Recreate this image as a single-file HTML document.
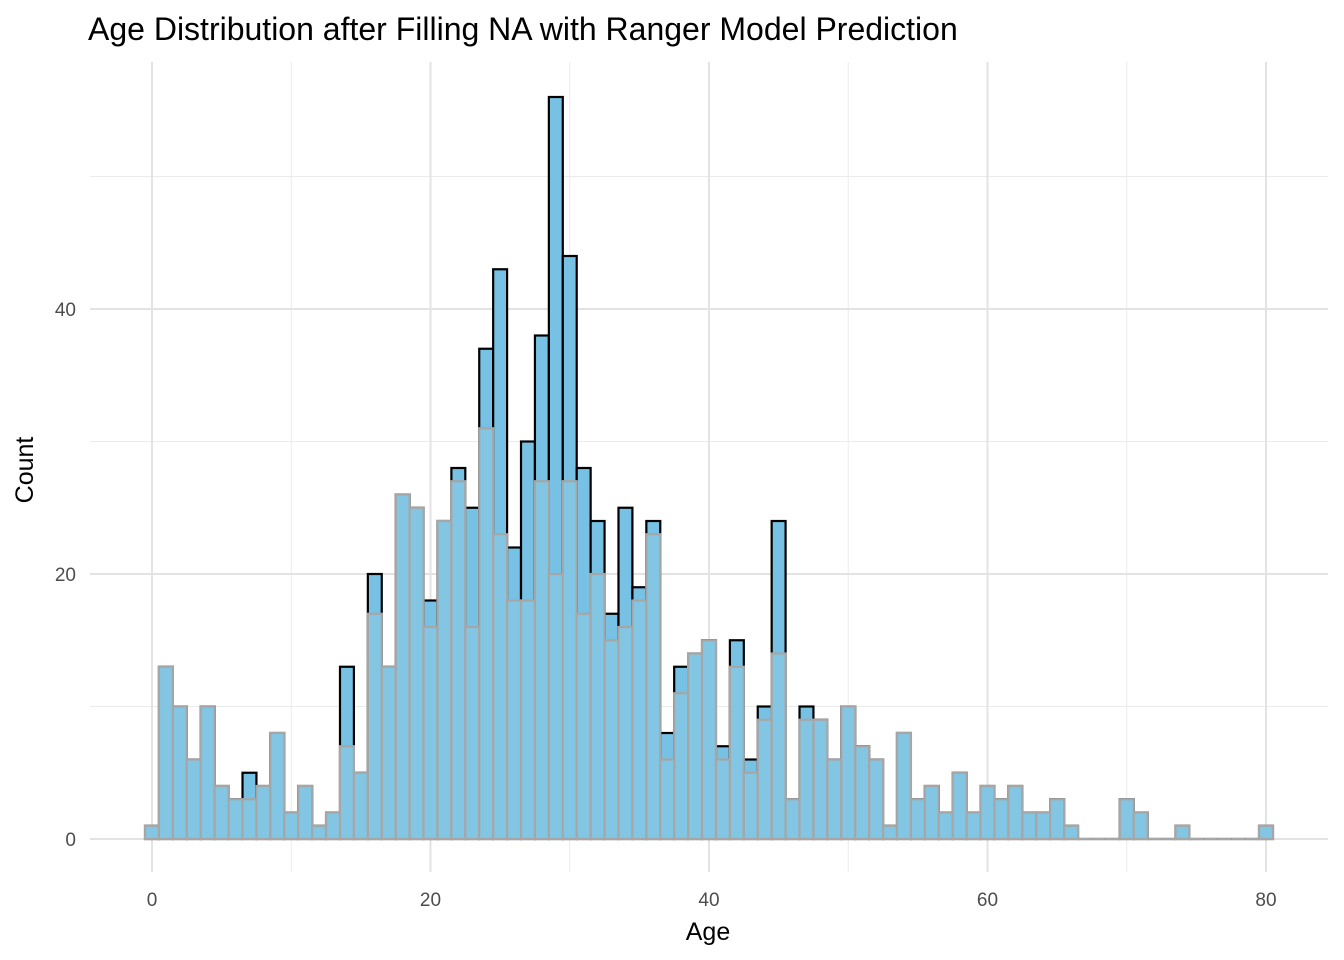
<!DOCTYPE html>
<html><head><meta charset="utf-8"><style>
body{margin:0;background:#fff;}
svg{display:block;font-family:"Liberation Sans",Arial,sans-serif;}
</style></head><body>
<svg id="chart" width="1344" height="960">
<text x="88" y="40" font-size="32" fill="#000">Age Distribution after Filling NA with Ranger Model Prediction</text>
<g id="grid"></g>
<g id="barsFull"></g>
<g id="barsOrig"></g>
<g id="ticks"></g>
<text x="708" y="940" font-size="25" text-anchor="middle" fill="#000">Age</text>
<text transform="translate(33,470) rotate(-90)" font-size="25" text-anchor="middle" fill="#000">Count</text>
</svg>
<script>
const ages = Array.from({length:81},(_, i)=>i);
const filledCounts = [1,13,10,6,10,4,3,5,4,8,2,4,1,2,13,5,20,13,26,25,18,24,28,25,37,43,22,30,38,56,44,28,24,17,25,19,24,8,13,14,15,7,15,6,10,24,3,10,9,6,10,7,6,1,8,3,4,2,5,2,4,3,4,2,2,3,1,0,0,0,3,2,0,0,1,0,0,0,0,0,1];
const originalCounts = [1,13,10,6,10,4,3,3,4,8,2,4,1,2,7,5,17,13,26,25,16,24,27,16,31,23,18,18,27,20,27,17,20,15,16,18,23,6,11,14,15,6,13,5,9,14,3,9,9,6,10,7,6,1,8,3,4,2,5,2,4,3,4,2,2,3,1,0,0,0,3,2,0,0,1,0,0,0,0,0,1];
const xTicks = [0,20,40,60,80];
const xMinor = [10,30,50,70];
const yTicks = [0,20,40];
const yMinor = [10,30,50];

const NS="http://www.w3.org/2000/svg";
const xs = v => 152 + v*(1266-152)/80;
const ys = v => 839 - v*13.25;
function mk(tag, attrs, parent){const e=document.createElementNS(NS,tag);for(const k in attrs)e.setAttribute(k,attrs[k]);parent.appendChild(e);return e;}
const grid=document.getElementById('grid'), ticks=document.getElementById('ticks');
xMinor.forEach(v=>{const l=mk('line',{x1:xs(v),x2:xs(v),y1:62,y2:872,stroke:'#ebebeb','stroke-width':1},grid);

});
yMinor.forEach(v=>{const l=mk('line',{x1:90,x2:1328,y1:ys(v),y2:ys(v),stroke:'#ebebeb','stroke-width':1},grid);

});
xTicks.forEach(v=>{const l=mk('line',{x1:xs(v),x2:xs(v),y1:62,y2:872,stroke:'#e3e3e3','stroke-width':2},grid);


const t=mk('text',{x:xs(v),y:906,'font-size':19,'text-anchor':'middle',fill:'#4d4d4d'},ticks);t.textContent=v;

});
yTicks.forEach(v=>{const l=mk('line',{x1:90,x2:1328,y1:ys(v),y2:ys(v),stroke:'#e3e3e3','stroke-width':2},grid);


const t=mk('text',{x:76,y:ys(v)+7,'font-size':19,'text-anchor':'end',fill:'#4d4d4d'},ticks);t.textContent=v;

});
function bars(counts, g, fill, stroke, name){
  ages.forEach((a,i)=>{const x0=xs(a-0.5), x1=xs(a+0.5), y=ys(counts[i]);
    let r;
    if(counts[i]===0){
      r=mk('line',{x1:x0,x2:x1,y1:ys(0),y2:ys(0),stroke:stroke,'stroke-width':2.2},g);
    } else {
      r=mk('rect',{x:x0,y:y,width:x1-x0,height:ys(0)-y,fill:fill,stroke:stroke,'stroke-width':2.2},g);
    }
    
    });
}
bars(filledCounts, document.getElementById('barsFull'), '#76c1e4', '#000', 'filled-bar');
bars(originalCounts, document.getElementById('barsOrig'), '#82c6e3', '#a6a6a6', 'original-bar');
</script>
</body></html>
